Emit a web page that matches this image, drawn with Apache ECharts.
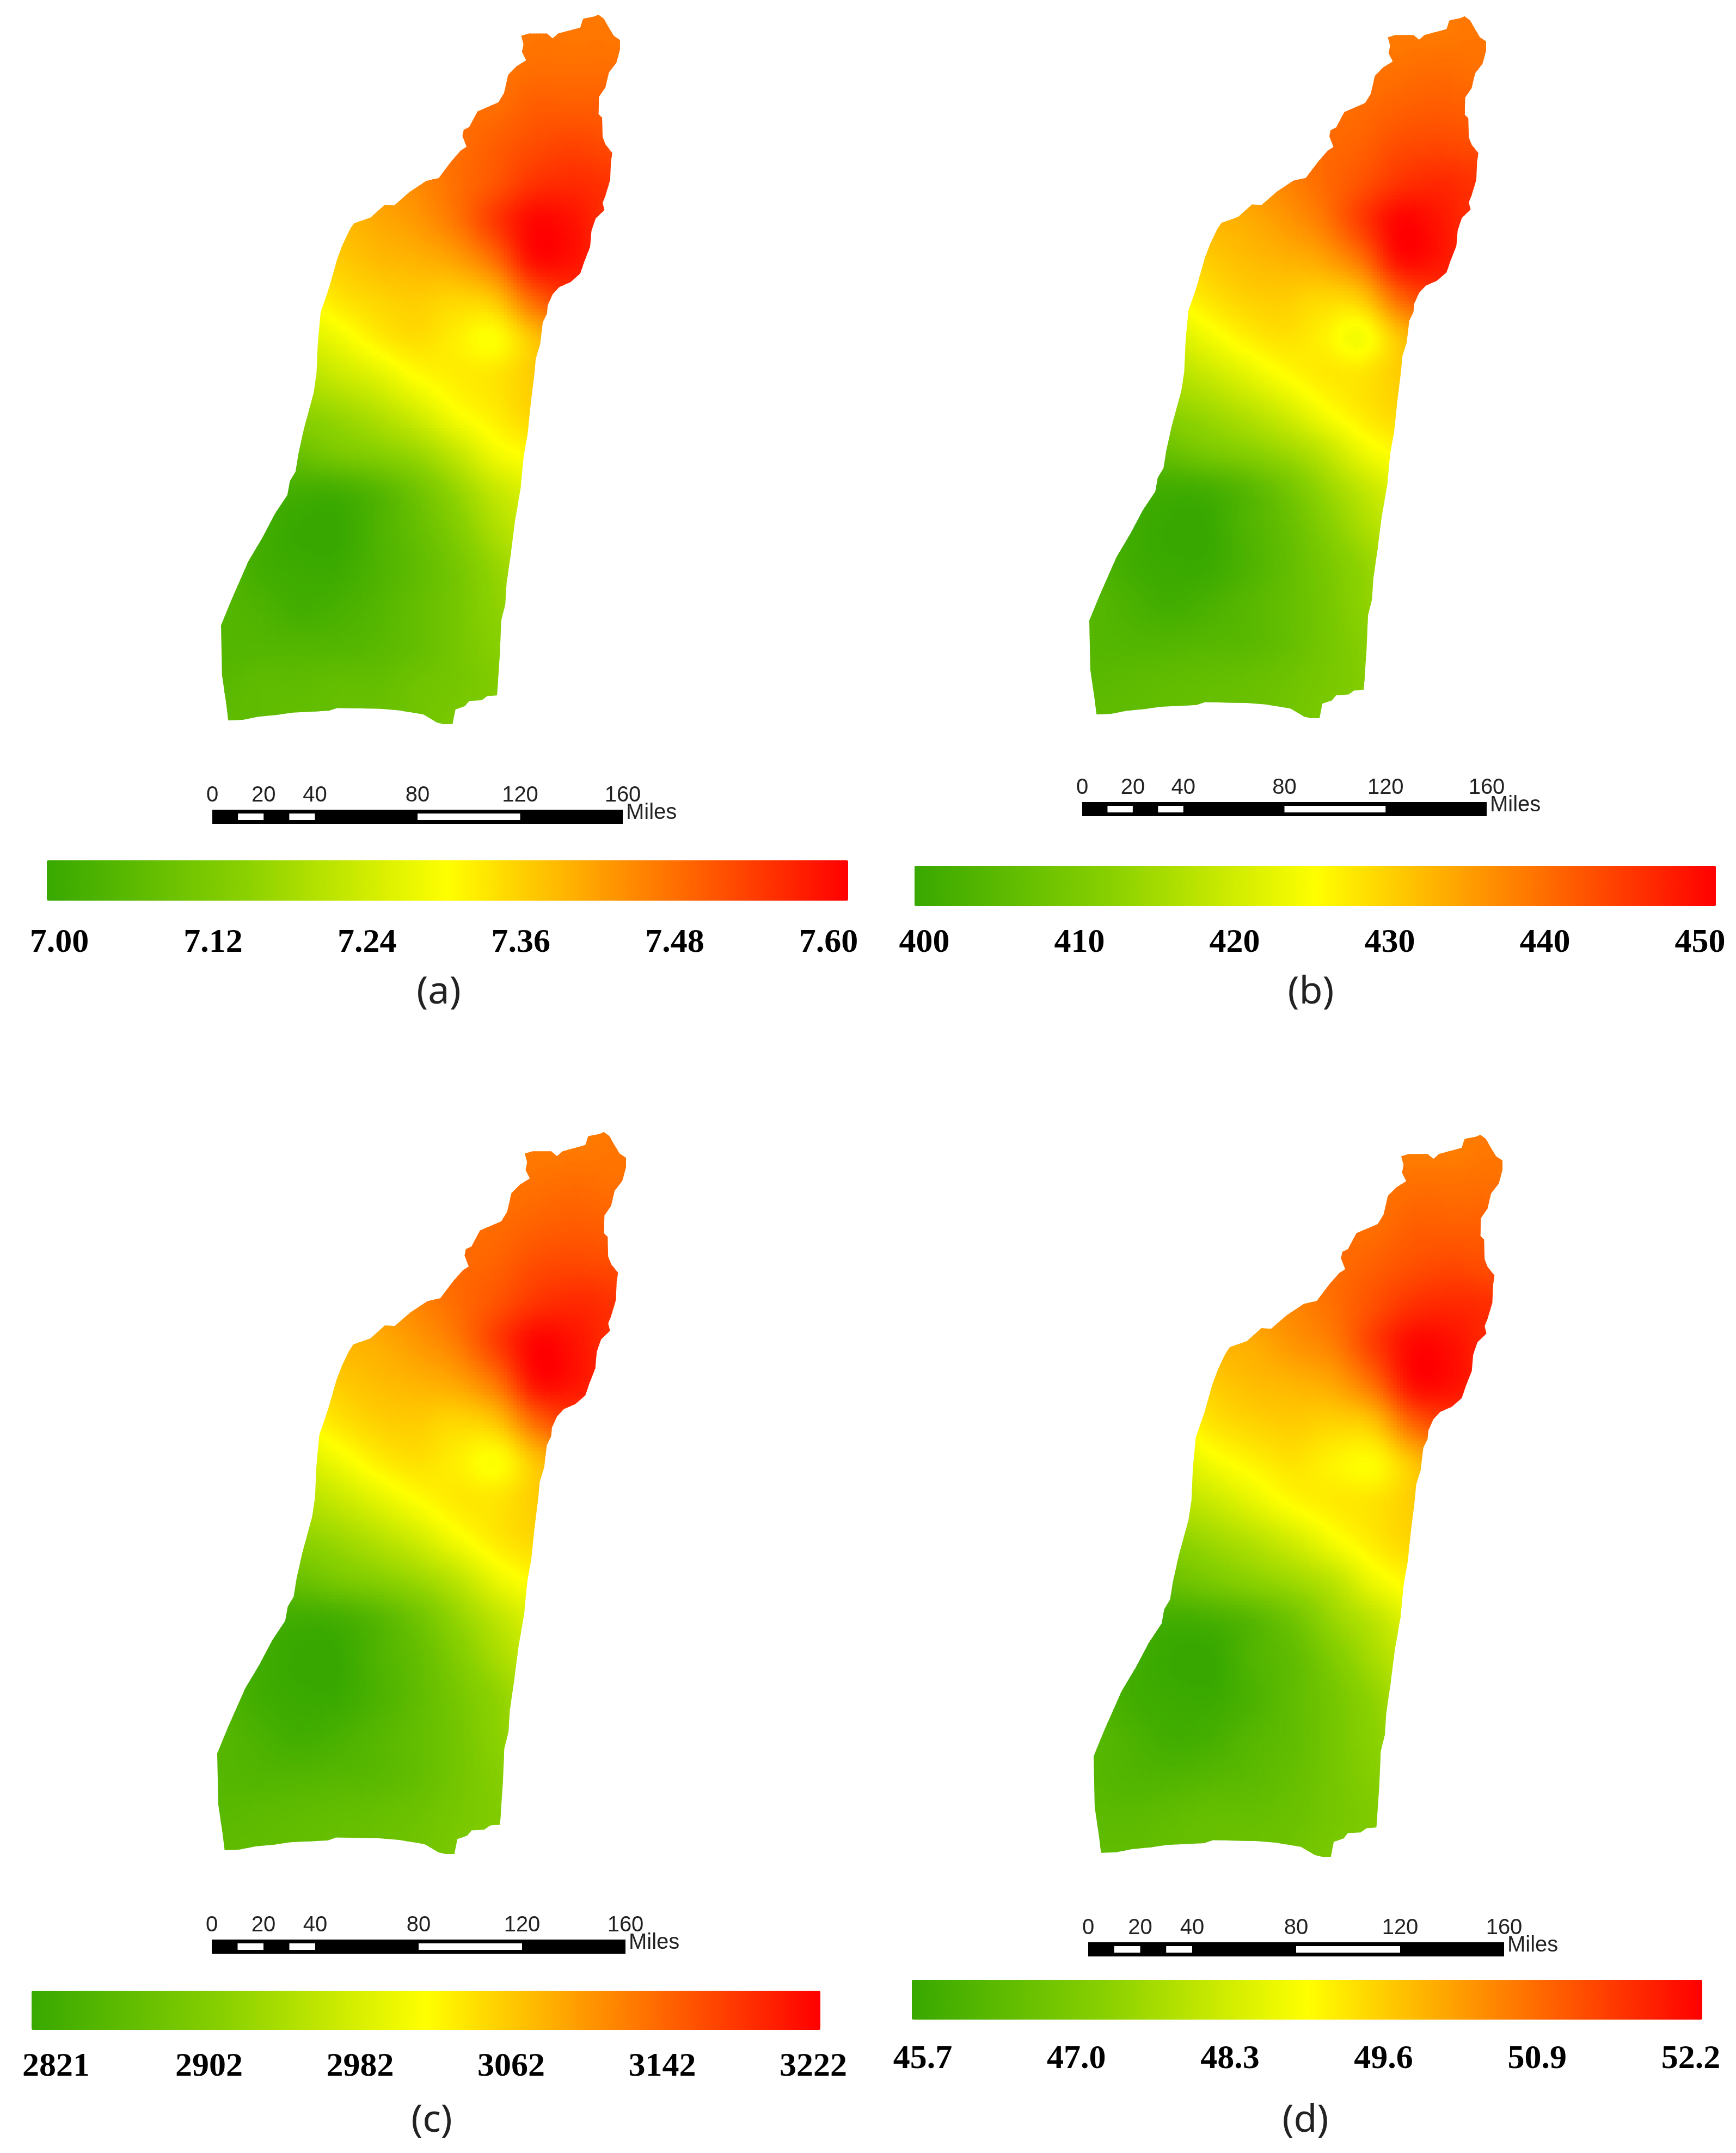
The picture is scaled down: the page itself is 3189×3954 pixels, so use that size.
<!DOCTYPE html>
<html lang="en">
<head>
<meta charset="UTF-8">
<title>Maps</title>
<script src="https://cdn.jsdelivr.net/npm/echarts@6/dist/echarts.min.js"></script>
<style>html,body{margin:0;background:#fff}#main{width:3189px;height:3954px}</style>
</head>
<body>
<div id="main"></div>
<script>
// map nodes, miles east / north of the south west corner
var nodeX = [0,15,30,45,60,75,90,105,120,135,150,165];
var nodeY = [0,15,30,45,60,75,90,105,120,135,150,165,180,195,210,225,240,255,270,285];

// boundary of the region in the same miles
var outline = [[145.1,275],[147.2,273.4],[148.8,270.5],[151,266.8],[153.4,265.2],[153.4,261.6],[152,256.4],[149.1,252.6],[147.8,246.9],[145.3,243.2],[145.1,236.5],[146.5,235.1],[146.7,227.6],[147.8,224.7],[150.4,221.4],[149.9,218.1],[149.6,211],[147.8,204.9],[146.7,202.1],[147.4,199.3],[144,196],[142.4,191.2],[141.9,185.1],[139.7,179.4],[138.1,174.7],[134.4,171.4],[130.1,169.5],[127.5,166.7],[125.6,162.4],[125.3,159.1],[123.7,155.8],[122.7,147.3],[121,141.7],[120.5,136],[118.9,122.8],[117.9,112.7],[116.3,103.5],[115.2,91.6],[113,78.7],[111.4,65.9],[109.8,54.8],[109.3,46.6],[107.7,40.1],[107.2,27.3],[106.1,11.2],[102.4,10.9],[100.2,9.3],[95.4,9],[93.8,7],[90.1,5.7],[89,0],[85.8,0],[83.1,0.6],[77.8,3.8],[68.2,5.4],[60.7,6],[44.7,6.3],[41.5,5.2],[27.6,4.5],[21.2,3.6],[14.3,2.9],[8.4,1.7],[2.8,1.5],[2,7.9],[0.4,19],[0,38.3],[4.1,48.4],[10.5,63.1],[15.9,72.3],[20.7,81.5],[25.5,88.8],[26.5,94.3],[28.7,98],[29.7,104.5],[31.9,114.6],[35.6,128.3],[36.7,135.7],[37.2,147.3],[38.3,159.6],[41.5,169],[44.7,180.4],[46.8,186],[49.5,191.7],[51.1,194.1],[57.5,196.4],[62.9,201.3],[66.6,201.1],[72.5,206.3],[78.9,210.6],[83.7,211.7],[88.5,218.1],[92.2,222.4],[94.4,223.8],[92.8,228],[93.3,230.4],[95.4,231.4],[98.6,237.5],[106.6,241],[108.8,244.6],[110.4,251.7],[113.6,255],[117.3,257.3],[115.7,260.6],[116.3,263.5],[115.4,266.8],[118.4,267.7],[125.3,267.7],[127.5,265.8],[129.6,267.7],[138.1,270],[139.2,273.4],[143.5,274.3]];

// values read at the nodes, south row first
var valuesA = [
[7.07,7.07,7.08,7.08,7.09,7.10,7.12,7.14,7.16,7.17,7.19,7.20],
[7.06,7.07,7.07,7.08,7.08,7.10,7.11,7.13,7.16,7.17,7.19,7.20],
[7.05,7.05,7.05,7.05,7.06,7.08,7.11,7.14,7.17,7.19,7.20,7.21],
[7.05,7.04,7.02,7.03,7.05,7.08,7.11,7.15,7.18,7.20,7.21,7.22],
[7.05,7.02,7.01,7.01,7.04,7.07,7.11,7.16,7.20,7.22,7.23,7.24],
[7.05,7.02,7.00,7.00,7.04,7.08,7.13,7.19,7.23,7.25,7.26,7.28],
[7.05,7.03,7.02,7.02,7.05,7.10,7.16,7.22,7.26,7.30,7.31,7.32],
[7.06,7.07,7.09,7.12,7.14,7.17,7.22,7.28,7.31,7.34,7.35,7.36],
[7.11,7.13,7.15,7.17,7.20,7.24,7.29,7.32,7.35,7.36,7.37,7.38],
[7.16,7.18,7.20,7.23,7.26,7.30,7.32,7.33,7.36,7.38,7.40,7.41],
[7.20,7.23,7.25,7.28,7.32,7.34,7.32,7.30,7.37,7.43,7.46,7.47],
[7.24,7.27,7.29,7.33,7.35,7.36,7.35,7.37,7.48,7.53,7.53,7.52],
[7.28,7.31,7.34,7.36,7.38,7.39,7.41,7.47,7.58,7.58,7.54,7.53],
[7.30,7.34,7.36,7.38,7.40,7.42,7.46,7.53,7.59,7.58,7.54,7.53],
[7.33,7.36,7.38,7.40,7.42,7.44,7.47,7.50,7.54,7.55,7.54,7.53],
[7.36,7.38,7.41,7.43,7.44,7.46,7.47,7.49,7.51,7.52,7.51,7.50],
[7.37,7.40,7.42,7.44,7.45,7.46,7.47,7.47,7.49,7.49,7.49,7.48],
[7.38,7.41,7.43,7.44,7.45,7.46,7.46,7.46,7.47,7.47,7.47,7.46],
[7.39,7.41,7.43,7.44,7.45,7.45,7.45,7.45,7.46,7.46,7.46,7.46],
[7.39,7.41,7.43,7.44,7.45,7.45,7.45,7.45,7.46,7.46,7.46,7.46]
];
var valuesB = [
[406,406,406.5,407,407.5,408.5,410,411.5,413,414.5,415.5,416.5],
[405,405.5,406,406.5,407,408,409.5,411,413,414.5,415.5,416.5],
[404.5,404,404,404.5,405,406.5,409,411.5,414,415.5,416.5,417.5],
[404.5,403,401.5,402.5,404.5,406.5,409,412.5,415,416.5,417.5,418.5],
[404,401.5,400.5,400.5,403,406,409.5,413,416.5,418,419,420],
[404,401.5,400,400,403.5,406.5,411,415.5,419,421,422,423],
[404,402.5,401.5,402,404.5,408.5,413.5,418,422,425,426,427],
[405,406,407.5,410,412,414.5,418,423,426,428,429,430],
[409,411,412.5,414.5,417,420,424,427,429,430,431,432],
[413,415,416.5,419,422,425,427,427.5,430,432,433,434],
[417,419,420.5,423.5,426.5,428,426.5,424,431,436,438,439],
[420,422.5,424.5,427.5,429.5,430,429,430.5,440,444,444,443],
[423,426,428,430,431.5,432.5,434,439,448.5,448,445,444],
[425,428,430,432,433,435,438,444,449.5,448,445,444],
[427.5,430,432,433.5,435,437,439.5,442,445,446,445,444],
[430,432,434,435.5,436.5,438,439.5,440.5,442.5,443,442.5,442],
[431,433,435,436.5,437.5,438.5,439,439.5,440.5,441,440.5,440],
[432,434,436,437,437.5,438,438.5,438.5,439,439.5,439,438.5],
[432.5,434.5,436,437,437.5,437.5,437.5,437.5,438,438,438.5,438],
[432.5,434.5,436,437,437.5,437.5,437.5,437.5,438,438,438.5,438]
];
var valuesC = [
[2869,2869,2873,2877,2881,2889,2901,2913,2925,2937,2945,2953],
[2861,2865,2869,2873,2877,2885,2897,2909,2925,2937,2945,2953],
[2857,2853,2853,2857,2861,2873,2893,2913,2933,2945,2953,2961],
[2857,2845,2833,2841,2857,2873,2893,2921,2941,2953,2961,2969],
[2853,2833,2825,2825,2845,2869,2897,2925,2953,2965,2973,2981],
[2853,2833,2821,2821,2849,2873,2909,2945,2973,2989,2997,3005],
[2853,2841,2833,2837,2857,2889,2929,2965,2997,3021,3029,3038],
[2861,2869,2881,2901,2917,2937,2965,3005,3029,3046,3054,3062],
[2893,2909,2921,2937,2957,2981,3013,3038,3054,3062,3070,3078],
[2925,2941,2953,2973,2997,3021,3038,3042,3062,3078,3086,3094],
[2957,2973,2985,3009,3034,3046,3034,3021,3070,3110,3126,3134],
[2981,3001,3017,3042,3058,3062,3054,3070,3142,3174,3174,3166],
[3005,3029,3046,3062,3074,3082,3094,3134,3210,3206,3182,3174],
[3021,3046,3062,3078,3086,3102,3126,3174,3218,3206,3182,3174],
[3042,3062,3078,3090,3102,3118,3138,3158,3182,3190,3182,3174],
[3062,3078,3094,3106,3114,3126,3138,3146,3162,3166,3162,3158],
[3070,3086,3102,3114,3122,3130,3134,3138,3146,3150,3146,3142],
[3078,3094,3110,3118,3122,3126,3130,3130,3134,3138,3134,3130],
[3082,3098,3110,3118,3122,3122,3122,3122,3126,3126,3130,3126],
[3082,3098,3110,3118,3122,3122,3122,3122,3126,3126,3130,3126]
];
var valuesD = [
[46.5,46.5,46.6,46.6,46.7,46.8,47.0,47.2,47.4,47.6,47.7,47.9],
[46.4,46.4,46.5,46.6,46.6,46.7,46.9,47.1,47.4,47.6,47.7,47.9],
[46.3,46.2,46.2,46.3,46.4,46.6,46.9,47.2,47.5,47.7,47.9,48.0],
[46.3,46.1,45.9,46.0,46.3,46.5,46.9,47.3,47.7,47.9,48.0,48.1],
[46.2,45.9,45.8,45.8,46.1,46.5,46.9,47.4,47.9,48.0,48.2,48.3],
[46.2,45.9,45.7,45.7,46.2,46.5,47.1,47.7,48.2,48.4,48.6,48.7],
[46.2,46.0,45.9,46.0,46.3,46.8,47.5,48.0,48.6,49.0,49.1,49.2],
[46.4,46.5,46.7,47.0,47.3,47.6,48.0,48.7,49.1,49.3,49.5,49.6],
[46.9,47.1,47.3,47.6,47.9,48.3,48.8,49.2,49.5,49.6,49.7,49.9],
[47.4,47.7,47.9,48.2,48.6,49.0,49.2,49.3,49.6,49.9,50.0,50.1],
[47.9,48.2,48.4,48.8,49.1,49.3,49.1,49.0,49.7,50.4,50.6,50.8],
[48.3,48.6,48.9,49.3,49.5,49.6,49.5,49.7,50.9,51.4,51.4,51.3],
[48.7,49.1,49.3,49.6,49.8,49.9,50.1,50.8,52.0,52.0,51.6,51.4],
[49.0,49.3,49.6,49.9,50.0,50.3,50.6,51.4,52.1,52.0,51.6,51.4],
[49.3,49.6,49.9,50.1,50.3,50.5,50.8,51.2,51.6,51.7,51.6,51.4],
[49.6,49.9,50.1,50.3,50.4,50.6,50.8,51.0,51.2,51.3,51.2,51.2],
[49.7,50.0,50.3,50.4,50.6,50.7,50.8,50.8,51.0,51.0,51.0,50.9],
[49.9,50.1,50.4,50.5,50.6,50.6,50.7,50.7,50.8,50.8,50.8,50.7],
[49.9,50.2,50.4,50.5,50.6,50.6,50.6,50.6,50.6,50.6,50.7,50.6],
[49.9,50.2,50.4,50.5,50.6,50.6,50.6,50.6,50.6,50.6,50.7,50.6]
];

// colour bar tick labels
var labelsA = ['7.00','7.12','7.24','7.36','7.48','7.60'];
var labelsB = ['400','410','420','430','440','450'];
var labelsC = ['2821','2902','2982','3062','3142','3222'];
var labelsD = ['45.7','47.0','48.3','49.6','50.9','52.2'];

// scale bar
var scaleTicks = [0,20,40,80,120,160];
var scaleBreaks = [0,10,20,30,40,80,120,160];

var rampColors = ['#38a800','#8bd100','#ffff00','#ff8000','#ff0000'];

// page layout of each panel
var panels = [
  {name:'(a)', values:valuesA, labels:labelsA, map:[406,27,733,1303], bar:[86,1580,1472,74], tick:[109,1522,1732], scale:[390,1487,754,26], nameAt:[806,1836]},
  {name:'(b)', values:valuesB, labels:labelsB, map:[2001,30,729,1289], bar:[1680,1590,1472,74], tick:[1698,3123,1732], scale:[1988,1473,743,26], nameAt:[2408,1836]},
  {name:'(c)', values:valuesC, labels:labelsC, map:[399,2079,751,1326], bar:[58,3656,1449,72], tick:[103,1494,3796], scale:[389,3562,760,26], nameAt:[793,3908]},
  {name:'(d)', values:valuesD, labels:labelsD, map:[2009,2084,751,1326], bar:[1675,3636,1452,73], tick:[1695,3106,3782], scale:[1999,3567,764,26], nameAt:[2398,3908]}
];

var colorCache = [];
for (var c = 0; c <= 400; c++) colorCache.push(echarts.color.lerp(c / 400, rampColors));

function catmull(p0, p1, p2, p3, t) {
  return 0.5 * (2 * p1 + (p2 - p0) * t + (2 * p0 - 5 * p1 + 4 * p2 - p3) * t * t + (3 * p1 - p0 - 3 * p2 + p3) * t * t * t);
}
// smooth shading between the read nodes
function shade(rows, x, y) {
  var fx = x / 15, fy = y / 15, ix = Math.floor(fx), iy = Math.floor(fy);
  var col = [];
  for (var j = -1; j <= 2; j++) {
    var r = rows[Math.max(0, Math.min(rows.length - 1, iy + j))];
    col.push(catmull(r[Math.max(0, ix - 1)], r[ix], r[Math.min(r.length - 1, ix + 1)], r[Math.min(r.length - 1, ix + 2)], fx - ix));
  }
  return catmull(col[0], col[1], col[2], col[3], fy - iy);
}
function inOutline(x, y) {
  var inside = false;
  for (var i = 0, j = outline.length - 1; i < outline.length; j = i++) {
    var a = outline[i], b = outline[j];
    if ((a[1] > y) !== (b[1] > y) && x < (b[0] - a[0]) * (y - a[1]) / (b[1] - a[1]) + a[0]) inside = !inside;
  }
  return inside;
}
function cellTouches(x, y) {
  for (var i = 0; i <= 6; i++) for (var j = 0; j <= 6; j++) {
    if (inOutline(x + i * 2.5, y + j * 2.5)) return true;
  }
  return false;
}

var SUB = 12;
function mapRenderer(rows, min, max) {
  return function (params, api) {
    var x0 = api.value(0), y0 = api.value(1);
    if (!cellTouches(x0, y0)) return;
    var d = 15 / SUB, kids = [];
    for (var i = 0; i < SUB; i++) for (var j = 0; j < SUB; j++) {
      var x = x0 + i * d, y = y0 + j * d;
      var p = api.coord([x, y + d]), q = api.coord([x + d, y]);
      var t = (shade(rows, x + d / 2, y + d / 2) - min) / (max - min);
      t = Math.max(0, Math.min(1, t));
      kids.push({type: 'rect', shape: {x: p[0], y: p[1], width: q[0] - p[0] + 1, height: q[1] - p[1] + 1},
        style: {fill: colorCache[Math.round(t * 400)]}});
    }
    return {type: 'group', clipPath: {type: 'polygon', shape: {points: outline.map(function (o) { return api.coord(o); })}}, children: kids};
  };
}
function scaleRenderer(params, api) {
  var a = api.coord([api.value(0), 1]), b = api.coord([api.value(1), 0]);
  var inset = api.value(2) ? 7 : 0;
  return {type: 'rect', shape: {x: a[0], y: a[1] + inset, width: b[0] - a[0], height: b[1] - a[1] - inset * 2},
    style: {fill: api.value(2) ? '#fff' : '#000'}};
}

var option = {animation: false, backgroundColor: '#fff', grid: [], xAxis: [], yAxis: [], series: [], visualMap: [], title: []};
var scaleData = [[0, 160, 0]];
for (var s = 0; s < scaleBreaks.length - 1; s++) {
  if (s === 1 || s === 3 || s === 5) scaleData.push([scaleBreaks[s], scaleBreaks[s + 1], 1]);
}

panels.forEach(function (pn, k) {
  var nums = pn.labels.map(Number);
  var min = nums[0], max = nums[nums.length - 1];
  var g = k * 3;

  // map
  option.grid.push({left: pn.map[0], top: pn.map[1], width: pn.map[2], height: pn.map[3]});
  option.xAxis.push({gridIndex: g, type: 'value', min: 0, max: 153.4, show: false});
  option.yAxis.push({gridIndex: g, type: 'value', min: 0, max: 275, show: false});
  var cells = [];
  for (var iy = 0; iy < nodeY.length - 1; iy++) for (var ix = 0; ix < nodeX.length - 1; ix++) {
    cells.push([nodeX[ix], nodeY[iy], pn.values[iy][ix]]);
  }
  option.series.push({type: 'custom', xAxisIndex: g, yAxisIndex: g, coordinateSystem: 'cartesian2d', clip: false, silent: true,
    encode: {x: 0, y: 1}, data: cells, renderItem: mapRenderer(pn.values, min, max)});
  option.visualMap.push({type: 'continuous', seriesIndex: option.series.length - 1, dimension: 2, min: min, max: max,
    orient: 'horizontal', left: pn.bar[0], top: pn.bar[1], itemHeight: pn.bar[2], itemWidth: pn.bar[3], padding: 0,
    calculable: false, hoverLink: false, text: null, showLabel: false, inRange: {color: rampColors}});

  // colour bar tick labels
  option.grid.push({left: pn.tick[0], width: pn.tick[1] - pn.tick[0], top: pn.tick[2] - 41, height: 1});
  option.xAxis.push({gridIndex: g + 1, type: 'value', min: min, max: max,
    axisLine: {show: false}, axisTick: {show: false}, splitLine: {show: false},
    axisLabel: {customValues: nums, margin: 40, verticalAlign: 'middle', hideOverlap: false,
      fontFamily: 'Liberation Serif', fontWeight: 'bold', fontSize: 62, color: '#000',
      formatter: function (v) { return pn.labels[nums.indexOf(v)]; }}});
  option.yAxis.push({gridIndex: g + 1, type: 'value', show: false});

  // scale bar
  option.grid.push({left: pn.scale[0], top: pn.scale[1], width: pn.scale[2], height: pn.scale[3]});
  option.xAxis.push({gridIndex: g + 2, type: 'value', position: 'top', min: 0, max: 160,
    axisLine: {show: false}, axisTick: {show: false}, splitLine: {show: false},
    axisLabel: {customValues: scaleTicks, margin: 6, hideOverlap: false,
      fontFamily: 'Liberation Sans', fontSize: 40, color: '#222'}});
  option.yAxis.push({gridIndex: g + 2, type: 'value', min: 0, max: 1, show: false});
  option.series.push({type: 'custom', xAxisIndex: g + 2, yAxisIndex: g + 2, clip: false, silent: true,
    encode: {x: [0, 1]}, data: scaleData, renderItem: scaleRenderer});

  option.title.push({text: pn.name, left: pn.nameAt[0], top: pn.nameAt[1] - 48, textAlign: 'center', padding: 0,
    textStyle: {fontFamily: 'Noto Sans', fontWeight: 'normal', fontSize: 70, color: '#222'}});
  option.title.push({text: 'Miles', left: pn.scale[0] + pn.scale[2] + 6, top: pn.scale[1] - 14, padding: 0,
    textStyle: {fontFamily: 'Liberation Sans', fontWeight: 'normal', fontSize: 40, color: '#222'}});
});

var chart = echarts.init(document.getElementById('main'));
chart.setOption(option);
</script>
</body>
</html>
